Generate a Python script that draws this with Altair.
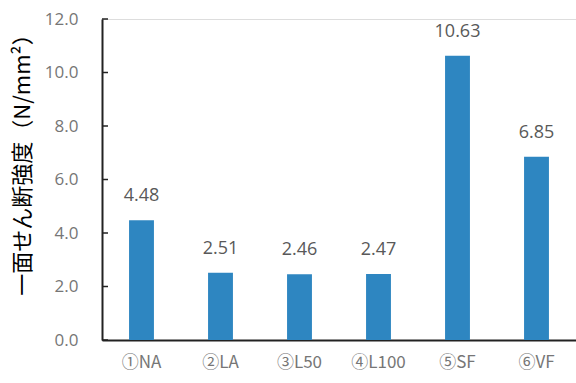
import altair as alt
import pandas as pd

categories = ["①NA", "②LA", "③L50", "④L100", "⑤SF", "⑥VF"]
values = [4.48, 2.51, 2.46, 2.47, 10.63, 6.85]
labels = ["4.48", "2.51", "2.46", "2.47", "10.63", "6.85"]
y_ticks = [0, 2, 4, 6, 8, 10, 12]

df = pd.DataFrame({"cat": categories, "val": values, "lab": labels})
ticks_df = pd.DataFrame({"t": y_ticks})

FONT = "Open Sans, Noto Sans CJK JP, sans-serif"
XFONT = "Noto Sans CJK JP"
GRAY = "#595959"
AXGRAY = "#767676"

x_scale = alt.Scale(paddingInner=0.685, paddingOuter=0.3425)
y_scale = alt.Scale(domain=[0, 12], nice=False)

bars = alt.Chart(df).mark_bar(color="#2E86C1").encode(
    x=alt.X("cat:N", sort=categories, title=None, scale=x_scale),
    y=alt.Y("val:Q", scale=y_scale,
            axis=alt.Axis(values=y_ticks, format=".1f",
                          title="一面せん断強度（N/mm²）")),
)

text = alt.Chart(df).mark_text(baseline="bottom", dy=-15, font=FONT,
                               fontSize=18, color=GRAY).encode(
    x=alt.X("cat:N", sort=categories, title=None),
    y=alt.Y("val:Q", scale=y_scale, title="一面せん断強度（N/mm²）"),
    text="lab:N",
)

tick_marks = alt.Chart(ticks_df).mark_rule(color="#222222", strokeWidth=1.5).encode(
    y=alt.Y("t:Q", scale=y_scale, title="一面せん断強度（N/mm²）"),
    x=alt.value(0),
    x2=alt.value(6),
)

chart = alt.layer(bars, text, tick_marks).properties(
    width=474, height=321,
    padding={"left": 102, "top": 19, "right": 0, "bottom": 43},
    autosize=alt.AutoSizeParams(type="none"),
).configure_view(stroke=None).configure(background="white").configure_axisX(
    labelAngle=0, ticks=False, labelPadding=14, grid=False,
    labelFont=XFONT, labelFontSize=17, labelColor=AXGRAY,
    domainColor="#222222", domainWidth=2,
).configure_axisY(
    ticks=False, grid=False, labelPadding=24, labelFont=FONT, labelFontSize=17,
    labelColor=AXGRAY, domainColor="#222222", domainWidth=2,
    titleFont="Noto Sans CJK JP", titleFontSize=22, titleFontWeight="normal",
    titleColor="#000000", titleAngle=-90, titleX=-80, titleY=140,
    titleBaseline="middle", titleAlign="center",
)

chart.save("out.html", embed_options={"renderer": "svg", "actions": False})
